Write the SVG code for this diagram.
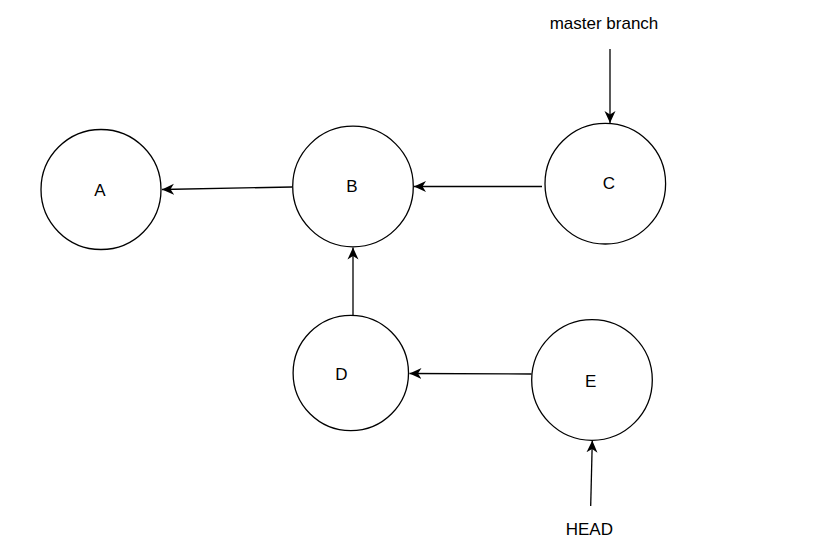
<svg xmlns="http://www.w3.org/2000/svg" width="840" height="558" viewBox="0 0 840 558">
<style>
.node circle{fill:#fff;stroke:#000;stroke-width:1.3}
text{font-family:"Liberation Sans",Arial,sans-serif;font-size:17px;fill:#000;text-anchor:middle;dominant-baseline:central}
.edge{stroke:#000;stroke-width:1.3;fill:none;marker-end:url(#arr)}
</style>
<defs>
<marker id="arr" markerUnits="userSpaceOnUse" markerWidth="14" markerHeight="12" viewBox="-12 -6 14 12" refX="0" refY="0" orient="auto">
<path d="M0,0 L-12,-5.5 L-8.5,0 L-12,5.5 Z" fill="#000"/>
</marker>
</defs>
<rect width="840" height="558" fill="#fff"/>
<g id="connectors">
<line class="edge" x1="292" y1="187" x2="162" y2="189.5"/>
<line class="edge" x1="542" y1="186.5" x2="414" y2="186.5"/>
<line class="edge" x1="353" y1="315" x2="353" y2="247.5"/>
<line class="edge" x1="531.5" y1="374" x2="409.5" y2="373.5"/>
<line class="edge" x1="610" y1="49" x2="610" y2="123"/>
<line class="edge" x1="590.7" y1="506" x2="592.3" y2="440.5"/>
</g>
<g id="A" class="node"><circle cx="101" cy="189.5" r="60"/><text x="100" y="190">A</text></g>
<g id="B" class="node"><circle cx="353" cy="186.5" r="60.3"/><text x="352" y="186.5">B</text></g>
<g id="C" class="node"><circle cx="605.3" cy="183.7" r="60.3"/><text x="609" y="183">C</text></g>
<g id="D" class="node"><circle cx="350.8" cy="373" r="57.7"/><text x="341.5" y="374.5">D</text></g>
<g id="E" class="node"><circle cx="592" cy="380" r="60.3"/><text x="590.7" y="381">E</text></g>
<g id="master"><text x="604" y="23">master branch</text></g>
<g id="HEAD"><text x="589.3" y="529">HEAD</text></g>
</svg>
